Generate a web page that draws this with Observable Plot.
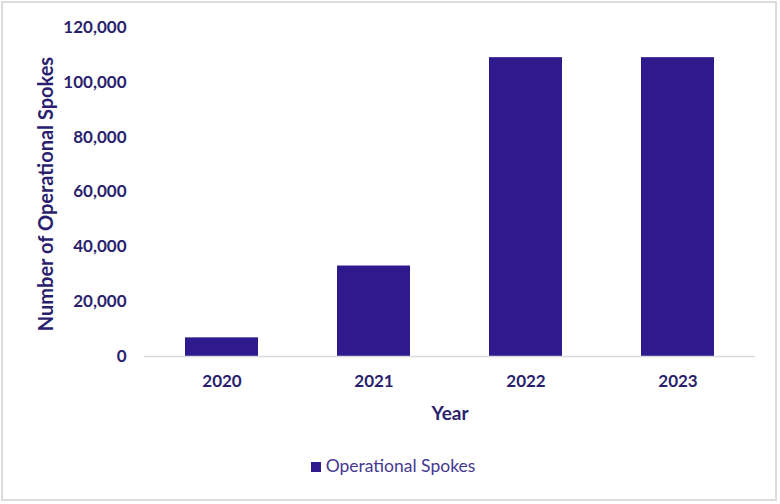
<!DOCTYPE html>
<html>
<head>
<meta charset="utf-8">
<script src="https://cdn.jsdelivr.net/npm/d3@7"></script>
<script src="https://cdn.jsdelivr.net/npm/@observablehq/plot@0.6"></script>
<style>
  html, body { margin: 0; padding: 0; background: #fff; }
  #wrap { position: relative; width: 780px; height: 504px; overflow: hidden; }
  #border { position: absolute; left: 1px; top: 1px; width: 776px; height: 500px; border: 2px solid #dcdcdc; box-sizing: border-box; pointer-events: none; }
  #legend { position: absolute; left: 0; top: 455px; width: 786px; text-align: center; font-family: Lato, "Open Sans", sans-serif; font-size: 17.5px; color: #45398f; }
  #legend .sw { display: inline-block; width: 10px; height: 10px; background: #2e1a8c; margin-right: 5px; vertical-align: 0px; }
</style>
</head>
<body>
<div id="wrap">
  <div id="chart"></div>
  <div id="legend"></div>
  <div id="border"></div>
</div>
<script>
const years = ["2020", "2021", "2022", "2023"];
const spokes = [6800, 33000, 109000, 109000];
const yTicks = [0, 20000, 40000, 60000, 80000, 100000, 120000];
const seriesName = "Operational Spokes";
const xTitle = "Year";
const yTitle = "Number of Operational Spokes";

const barColor = "#2e1a8c";
const textColor = "#2a1f6e";

const data = years.map((y, i) => ({year: y, value: spokes[i]}));

const chart = Plot.plot({
  width: 780,
  height: 440,
  marginLeft: 144,
  marginRight: 25,
  marginTop: 27,
  marginBottom: 84,
  style: {fontFamily: "Lato, 'Open Sans', sans-serif", fontSize: "17px", fontWeight: "bold", color: textColor, background: "transparent"},
  x: {domain: years, paddingInner: 0.52, paddingOuter: 0.26, label: null},
  y: {domain: [0, 120000], label: null},
  marks: [
    Plot.barY(data, {x: "year", y: "value", fill: barColor}),
    Plot.ruleY([0], {stroke: "#d9d9d9", strokeWidth: 1.5}),
    Plot.axisX({tickSize: 0, tickPadding: 18, label: null, fill: textColor}),
    Plot.axisY({ticks: yTicks, tickFormat: d3.format(","), tickSize: 0, tickPadding: 18, label: null, fill: textColor}),
    Plot.text([xTitle], {frameAnchor: "bottom", dy: 63, text: d => d, fontSize: 19, fontWeight: "bold", fill: textColor}),
    Plot.text([yTitle], {frameAnchor: "left", textAnchor: "middle", dx: -98, dy: 2, rotate: -90, text: d => d, fontSize: 20, fontWeight: "bold", fill: textColor})
  ]
});
document.getElementById("chart").appendChild(chart);

const lg = document.getElementById("legend");
const sw = document.createElement("span");
sw.className = "sw";
lg.appendChild(sw);
lg.appendChild(document.createTextNode(seriesName));
</script>
</body>
</html>
